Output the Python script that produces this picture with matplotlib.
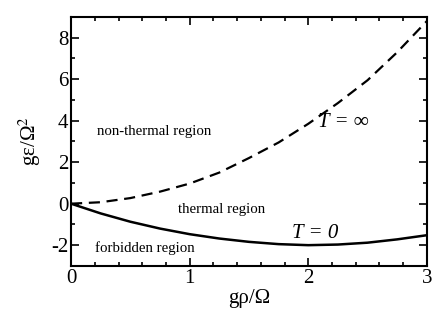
import matplotlib
matplotlib.use("Agg")
import matplotlib.pyplot as plt
from matplotlib.ticker import MultipleLocator

plt.rcParams['font.family'] = ['Liberation Serif', 'DejaVu Serif']
plt.rcParams['mathtext.fontset'] = 'stix'
plt.rcParams['axes.unicode_minus'] = False

# values
rho = [0, 0.25, 0.5, 0.75, 1.0, 1.25, 1.5, 1.75, 2.0, 2.25, 2.5, 2.75, 3.0]
eps_T0 = [0, -0.47, -0.87, -1.2, -1.47, -1.68, -1.84, -1.95, -2.0, -1.97, -1.88, -1.72, -1.52]
eps_Tinf = [0, 0.07, 0.27, 0.58, 0.97, 1.5, 2.2, 2.95, 3.85, 4.85, 5.95, 7.3, 8.8]

fig = plt.figure(figsize=(4.36, 3.2), dpi=100)
ax = fig.add_axes([0.163, 0.169, 0.816, 0.778])

ax.plot(rho, eps_T0, color='black', lw=1.8, linestyle='-')
ax.plot(rho, eps_Tinf, color='black', lw=1.6, linestyle=(0, (5, 3)))

ax.set_xlim(0, 3)
ax.set_ylim(-3, 9)
ax.xaxis.set_major_locator(MultipleLocator(1))
ax.xaxis.set_minor_locator(MultipleLocator(0.2))
ax.yaxis.set_major_locator(MultipleLocator(2))
ax.yaxis.set_minor_locator(MultipleLocator(1))
ax.tick_params(which='both', direction='in', top=True, right=True, width=1.2, labelsize=15)
ax.tick_params(which='major', length=6, pad=2)
ax.tick_params(which='minor', length=3)
for s in ax.spines.values():
    s.set_linewidth(1.5)

ax.set_xlabel('gρ/Ω', fontsize=15, labelpad=1)
ax.set_ylabel('gε/Ω$^2$', fontsize=15, labelpad=6)

ax.text(0.70, 3.5, 'non-thermal region', fontsize=10.7, ha='center', va='center')
ax.text(1.27, -0.3, 'thermal region', fontsize=10.7, ha='center', va='center')
ax.text(0.62, -2.12, 'forbidden region', fontsize=10.7, ha='center', va='center')
ax.text(2.30, 3.93, 'T = ∞', fontsize=15, style='italic', ha='center', va='center')
ax.text(2.06, -1.45, 'T = 0', fontsize=15, style='italic', ha='center', va='center')

fig.savefig('out.png', dpi=100)
